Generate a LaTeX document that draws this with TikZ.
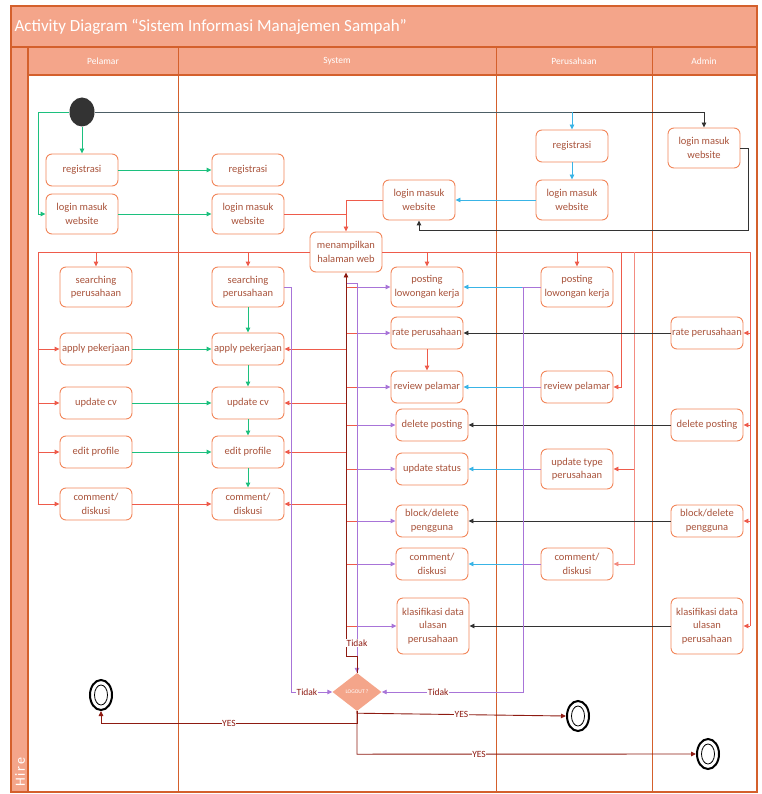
\documentclass[tikz,border=0pt]{standalone}
\usepackage{fontspec}
\setmainfont{Carlito}
\usepackage{xcolor}
\usetikzlibrary{arrows.meta,shapes.geometric}
\definecolor{poolline}{HTML}{D4602C}
\definecolor{poolfill}{HTML}{F4A58A}
\definecolor{actline}{HTML}{F2865A}
\definecolor{acttext}{HTML}{A9533B}
\definecolor{flowred}{HTML}{EE5B4B}
\definecolor{flowgreen}{HTML}{1CC07E}
\definecolor{flowblue}{HTML}{39B4E6}
\definecolor{flowpurple}{HTML}{A874D8}
\definecolor{flowdark}{HTML}{333333}
\definecolor{flowslate}{HTML}{4D5F66}
\definecolor{dkred}{HTML}{8E1B12}

\begin{document}
\begin{tikzpicture}[x=1pt, y=-1pt, >={Triangle[length=5pt,width=4.5pt]},
    act/.style={draw=actline, line width=0.9pt, fill=white, rounded corners=6pt,
        minimum width=72pt, minimum height=32pt, inner sep=1pt, align=center,
        text=acttext, font=\fontsize{10.5}{13.5}\selectfont},
    act2/.style={act, minimum height=40pt},
    act3/.style={act, minimum height=56pt},
    flow/.style={line width=0.9pt},
    endstate/.style={ellipse, draw=black, line width=2pt, fill=white,
        minimum width=22pt, minimum height=30pt,
        path picture={\draw[line width=0.8pt] (path picture bounding box.center) ellipse (6.5pt and 10pt);}},
    lbl/.style={fill=white, inner sep=0.5pt, text=dkred, font=\fontsize{9.5}{9.5}\selectfont}
]
\useasboundingbox (0,0) rectangle (761,794);

% pool and lanes
\draw[poolline, fill=poolfill, line width=1.2pt] (11,6) rectangle (757,47);
\node[anchor=west, text=white, font=\fontsize{17}{17}\selectfont] (title) at (11,27)
    {Activity Diagram “Sistem Informasi Manajemen Sampah”};
\draw[poolline, fill=poolfill, line width=1.2pt] (11,47) rectangle (28,792);
\node[rotate=90, anchor=west, text=white, font=\fontsize{14}{14}\selectfont\addfontfeature{LetterSpace=12}] (hire) at (20,790) {Hire};
\draw[poolline, fill=poolfill, line width=1.2pt] (28,47) rectangle (757,75);
\draw[poolline, line width=1.2pt] (11,6) rectangle (757,792);
\foreach \x in {178,496,652}
    \draw[poolline, line width=1pt] (\x,47) -- (\x,792);
\node[text=white, font=\fontsize{9.5}{9.5}\selectfont] (hpelamar) at (103,61) {Pelamar};
\node[text=white, font=\fontsize{9.5}{9.5}\selectfont] (hsystem) at (337,61) {System};
\node[text=white, font=\fontsize{9.5}{9.5}\selectfont] (hperusahaan) at (574,61) {Perusahaan};
\node[text=white, font=\fontsize{9.5}{9.5}\selectfont] (hadmin) at (704,61) {Admin};

% Pelamar
\node[ellipse, fill=flowdark, minimum width=25pt, minimum height=29pt, inner sep=0pt] (start) at (82,112) {};
\node[act] (preg) at (82,170) {registrasi};
\node[act2] (plogin) at (82,214) {login masuk\\website};
\node[act2] (psearch) at (96,287) {searching\\perusahaan};
\node[act] (papply) at (96,349) {apply pekerjaan};
\node[act] (pcv) at (96,403) {update cv};
\node[act] (pedit) at (96,452) {edit profile};
\node[act] (pcomment) at (96,504) {comment/\\diskusi};

% System
\node[act] (sreg) at (248,170) {registrasi};
\node[act2] (slogin) at (248,214) {login masuk\\website};
\node[act2] (slogin2) at (419,200) {login masuk\\website};
\node[act2] (sweb) at (346,252) {menampilkan\\halaman web};
\node[act2] (ssearch) at (248,287) {searching\\perusahaan};
\node[act] (sapply) at (248,349) {apply pekerjaan};
\node[act] (scv) at (248,403) {update cv};
\node[act] (sedit) at (248,452) {edit profile};
\node[act] (scomment) at (248,504) {comment/\\diskusi};
\node[act2] (spost) at (427,287) {posting\\lowongan kerja};
\node[act] (srate) at (427,333) {rate perusahaan};
\node[act] (sreview) at (427,387) {review pelamar};
\node[act] (sdelete) at (432,425) {delete posting};
\node[act] (sstatus) at (432,469) {update status};
\node[act] (sblock) at (432,521) {block/delete\\pengguna};
\node[act] (scomment2) at (432,564) {comment/\\diskusi};
\node[act3] (sklas) at (433,626) {klasifikasi data\\ulasan\\perusahaan};

% Perusahaan
\node[act] (creg) at (572,146) {registrasi};
\node[act2] (clogin) at (572,200) {login masuk\\website};
\node[act2] (cpost) at (577,287) {posting\\lowongan kerja};
\node[act] (creview) at (577,387) {review pelamar};
\node[act2] (ctype) at (577,469) {update type\\perusahaan};
\node[act] (ccomment) at (577,564) {comment/\\diskusi};

% Admin
\node[act2] (alogin) at (704,148) {login masuk\\website};
\node[act] (arate) at (707,333) {rate perusahaan};
\node[act] (adelete) at (707,425) {delete posting};
\node[act] (ablock) at (707,521) {block/delete\\pengguna};
\node[act3] (aklas) at (707,626) {klasifikasi data\\ulasan\\perusahaan};

% decision and final states
\node[diamond, fill=poolfill, minimum width=49pt, minimum height=38pt, inner sep=0pt,
    text=white, font=\fontsize{5.5}{5.5}\selectfont] (logout) at (357,692) {LOGOUT ?};
\node[endstate] (endP) at (101,695) {};
\node[endstate] (endC) at (578,716) {};
\node[endstate] (endA) at (708,754) {};

\coordinate (rbus) at (347,283);
\coordinate (pbus) at (357,283);

% start
\draw[flow, flowgreen, ->] (start) -- (preg);
\draw[flow, flowgreen, ->] (start.west) -- (38,112) |- (plogin.west);
\draw[flow, flowslate] (start.east) -- (creg.north |- start.east);
\draw[flow, flowdark, ->] (creg.north |- start.east) -| (alogin.north);
\draw[flow, flowblue, ->] (creg.north |- start.east) -- (creg.north);

% login
\draw[flow, flowgreen, ->] (preg) -- (sreg);
\draw[flow, flowgreen, ->] (plogin) -- (slogin);
\draw[flow, flowblue, ->] (creg) -- (clogin);
\draw[flow, flowblue, ->] (clogin) -- (slogin2);
\draw[flow, flowdark, ->] (alogin.east) -- ++(8,0) -- ++(0,82) -| (slogin2.south);
\draw[flow, flowred] (slogin.east) -- (slogin.east -| sweb.north);
\draw[flow, flowred, ->] (slogin2.west) -| (sweb.north);

% menampilkan halaman web
\draw[flow, flowred] (sweb.west) -- (38,252) -- (38,504);
\draw[flow, flowred] (sweb.east) -- (750,252) -- (750,626);
\draw[flow, flowred, ->] (psearch.north |- sweb.west) -- (psearch.north);
\draw[flow, flowred, ->] (ssearch.north |- sweb.west) -- (ssearch.north);
\draw[flow, flowred, ->] (spost.north |- sweb.east) -- (spost.north);
\draw[flow, flowred, ->] (cpost.north |- sweb.east) -- (cpost.north);
\draw[flow, flowred, ->] (621,252) |- (creview.east);
\draw[flow, flowred!70, ->] (634,252) |- (ccomment.east);
\draw[flow, flowred, ->] (ctype.east) ++(21,0) -- (ctype.east);
\foreach \n in {papply,pcv,pedit,pcomment}
    \draw[flow, flowred, ->] (\n.west) ++(-22,0) -- (\n.west);
\foreach \n in {arate,adelete,ablock,aklas}
    \draw[flow, flowred, ->] (\n.east) ++(7,0) -- (\n.east);
\foreach \n in {sapply,scv,sedit,scomment}
    \draw[flow, flowred, ->] (\n.east -| rbus) -- (\n.east);
\foreach \n in {spost,srate,sreview,sdelete,sstatus,sblock,scomment2,sklas} {
    \draw[flow, flowred] (\n.west -| rbus) -- (\n.west -| pbus);
    \draw[flow, flowpurple, ->] (\n.west -| pbus) -- (\n.west);
}

% Pelamar to System
\draw[flow, flowgreen, ->] (papply) -- (sapply);
\draw[flow, flowgreen, ->] (pcv) -- (scv);
\draw[flow, flowgreen, ->] (pedit) -- (sedit);
\draw[flow, flowred, ->] (pcomment) -- (scomment);
\draw[flow, flowgreen, ->] (ssearch) -- (sapply);
\draw[flow, flowgreen, ->] (sapply) -- (scv);
\draw[flow, flowgreen, ->] (scv) -- (sedit);
\draw[flow, flowgreen, ->] (sedit) -- (scomment);
\draw[flow, flowred, ->] (srate) -- (sreview);

% Perusahaan and Admin to System
\foreach \a/\b in {cpost/spost,creview/sreview,ctype/sstatus,ccomment/scomment2} {
    \draw[flow, flowpurple] (\a.west) -- ++(-19,0);
    \draw[flow, flowblue, ->] (\a.west) ++(-19,0) -- (\b.east);
}
\foreach \a/\b in {arate/srate,adelete/sdelete,ablock/sblock,aklas/sklas}
    \draw[flow, flowdark, ->] (\a.west) -- (\b.east);

% logout
\draw[flow, flowpurple] (rbus) -- (pbus);
\draw[flow, flowpurple, ->] (pbus) -- (logout.north);
\draw[flow, dkred, ->] (logout.north) -- ++(0,-16) -| (sweb.south);
\node[lbl] (tidak1) at (357,643) {Tidak};
\draw[flow, flowpurple, ->] (ssearch.east) -- ++(7,0) |- (logout.west)
    node[lbl, pos=0.69] {Tidak};
\draw[flow, flowpurple, ->] (cpost.west) -- (523,287) |- (logout.east)
    node[lbl, pos=0.8] {Tidak};
\draw[flow, dkred, ->] (logout.south) -- ++(0,2) -- (endC.west)
    node[lbl, pos=0.5] {YES};
\draw[flow, dkred, ->] (logout.south) -- ++(0,12) -| (endP.south)
    node[lbl, pos=0.25] {YES};
\draw[flow, dkred, ->] (logout.south) -- ++(0,43) -- (endA.west)
    node[lbl, pos=0.36] {YES};
\end{tikzpicture}
\end{document}
